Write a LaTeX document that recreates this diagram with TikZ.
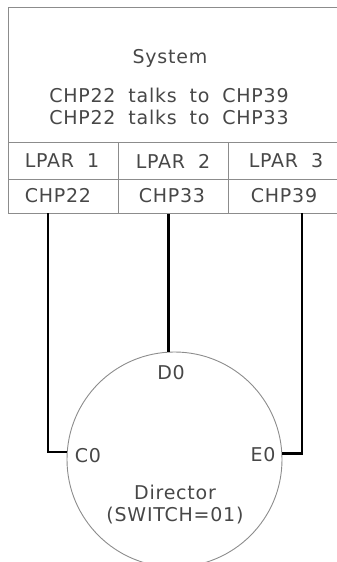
\documentclass[tikz,border=0pt]{standalone}
\usepackage{fontspec}
\setmainfont[LetterSpace=4,WordSpace=1.9]{DejaVu Sans}
\begin{document}
\begin{tikzpicture}[x=1pt,y=-1pt,
  txt/.style={font=\fontsize{19}{22}\selectfont, text=black!72, inner sep=0pt},
  cell/.style={draw=black!45, line width=0.9pt, rectangle, inner sep=0pt, anchor=north west},
  link/.style={draw=black, line width=2.8pt, line cap=butt},
  dir/.style={draw=black!45, line width=0.9pt, circle, minimum size=215pt, inner sep=0pt}]
\useasboundingbox (0,0) rectangle (337,562);
% system box
\node[cell, minimum width=340pt, minimum height=135pt] (sys) at (7.5,7) {};
\node[txt] (systitle) at (170,58) {System};
\node[txt] (talk1) at (169,95) {CHP22 talks to CHP39};
\node[txt] (talk2) at (169,117) {CHP22 talks to CHP33};
% LPAR row
\node[cell, minimum width=110.5pt, minimum height=37pt] (l1) at (7.5,142) {};
\node[cell, minimum width=110pt, minimum height=37pt] (l2) at (118,142) {};
\node[cell, minimum width=120pt, minimum height=37pt] (l3) at (228,142) {};
\node[txt] (l1t) at (62,161) {LPAR 1};
\node[txt] (l2t) at (173,161) {LPAR 2};
\node[txt] (l3t) at (286,161) {LPAR 3};
% CHP row
\node[cell, minimum width=110.5pt, minimum height=34pt] (c22) at (7.5,179) {};
\node[cell, minimum width=110pt, minimum height=34pt] (c33) at (118,179) {};
\node[cell, minimum width=120pt, minimum height=34pt] (c39) at (228,179) {};
\node[txt] (c22t) at (58,196) {CHP22};
\node[txt] (c33t) at (172,196) {CHP33};
\node[txt] (c39t) at (284,196) {CHP39};
% director
\node[dir] (director) at (174.5,459.5) {};
\node[txt] (d0) at (171,373) {D0};
\node[txt] (c0) at (88,456) {C0};
\node[txt] (e0) at (263,455) {E0};
\node[txt] (dirname) at (175,492) {Director};
\node[txt] (switch) at (175,516) {(SWITCH=01)};
% connectors
\coordinate (p22) at (48,213);
\coordinate (p39) at (302,213);
\draw[link] (p22) |- (director.176.5);
\draw[link] (director.93) -- (director.93 |- c33.south);
\draw[link] (p39) |- (director.3.5);
\end{tikzpicture}
\end{document}
